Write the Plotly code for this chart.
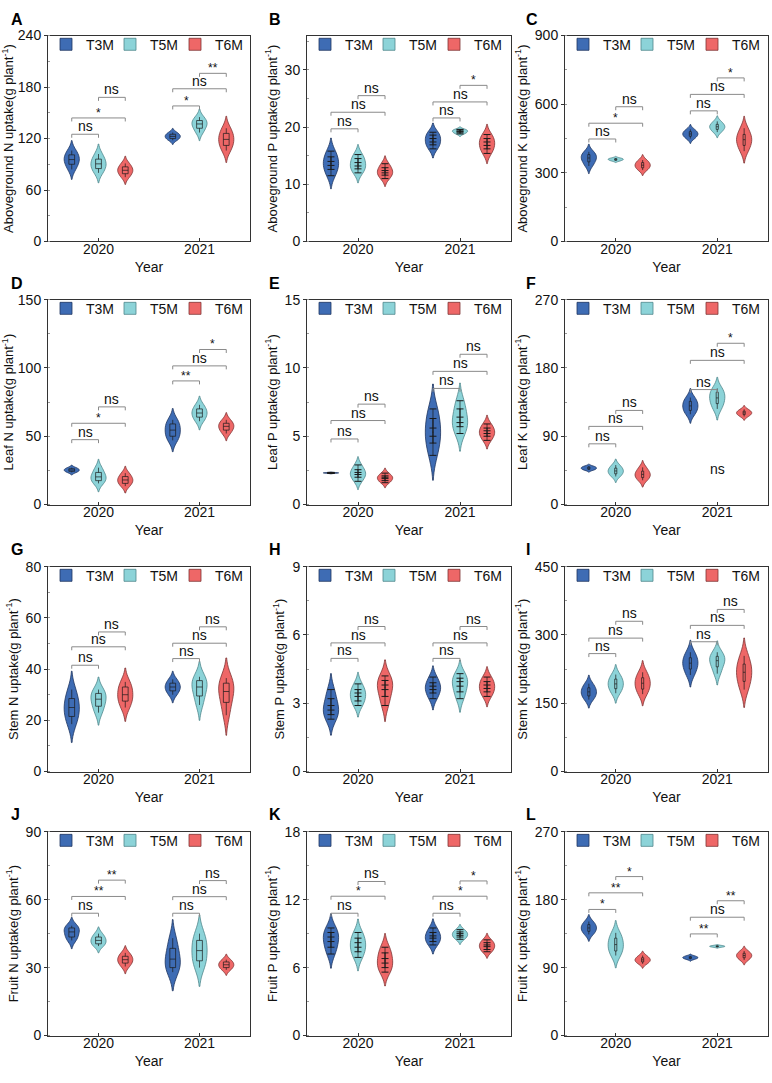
import plotly.graph_objects as go

W, H = 772, 1083

years = ["2020", "2021"]
treatments = ["T3M", "T5M", "T6M"]
letters = ["A", "B", "C", "D", "E", "F", "G", "H", "I", "J", "K", "L"]
y_titles = [
    "Aboveground N uptake(g plant<sup>-1</sup>)",
    "Aboveground P uptake(g plant<sup>-1</sup>)",
    "Aboveground K uptake(g plant<sup>-1</sup>)",
    "Leaf N uptake(g plant<sup>-1</sup>)",
    "Leaf P uptake(g plant<sup>-1</sup>)",
    "Leaf K uptake(g plant<sup>-1</sup>)",
    "Stem N uptake(g plant<sup>-1</sup>)",
    "Stem P uptake(g plant<sup>-1</sup>)",
    "Stem K uptake(g plant<sup>-1</sup>)",
    "Fruit N uptake(g plant<sup>-1</sup>)",
    "Fruit P uptake(g plant<sup>-1</sup>)",
    "Fruit K uptake(g plant<sup>-1</sup>)",
]
y_max = [240, 36, 900, 150, 15, 270, 80, 9, 450, 90, 18, 270]
y_step = [60, 10, 300, 50, 5, 90, 20, 3, 150, 30, 6, 90]

# ---- sample values per treatment: [2020 values, 2021 values] ----
a_t3m = [[84, 90, 94, 97, 101, 106], [118, 120, 122, 123, 125, 127]]
a_t5m = [[80, 85, 89, 92, 96, 102], [127, 132, 136, 138, 141, 145]]
a_t6m = [[75, 79, 82, 84, 87, 91], [106, 112, 117, 121, 126, 132]]

b_t3m = [[11.5, 12.6, 13.3, 14.0, 14.8, 15.8], [16.2, 16.9, 17.4, 18.0, 18.6, 19.1]]
b_t5m = [[12.0, 12.7, 13.2, 13.8, 14.5, 15.2], [18.8, 19.0, 19.2, 19.3, 19.5, 19.6]]
b_t6m = [[11.0, 11.6, 12.0, 12.4, 12.9, 13.6], [15.4, 16.2, 16.8, 17.4, 18.0, 18.7]]

c_t3m = [[330, 348, 360, 370, 380, 392], [450, 460, 467, 473, 480, 490]]
c_t5m = [[352, 355, 358, 360, 362, 365], [478, 490, 498, 505, 512, 525]]
c_t6m = [[312, 322, 330, 337, 345, 356], [395, 420, 438, 452, 468, 495]]

d_t3m = [[23.5, 24.3, 25.0, 25.5, 26.2, 27.0], [47, 50, 53, 56, 59, 62]]
d_t5m = [[15.5, 17.5, 19.5, 21.0, 23.5, 27.0], [61, 64, 66, 68, 70, 73]]
d_t6m = [[13.5, 15.5, 17.5, 18.5, 20.5, 23.0], [52, 54.5, 56.5, 58, 59.5, 62]]

e_t3m = [[2.28, 2.30, 2.31, 2.32, 2.33, 2.35], [3.6, 4.5, 5.0, 5.6, 6.3, 7.0]]
e_t5m = [[1.7, 2.0, 2.2, 2.35, 2.55, 2.9], [5.2, 5.7, 6.0, 6.4, 7.0, 7.6]]
e_t6m = [[1.6, 1.75, 1.9, 2.0, 2.1, 2.3], [4.7, 5.0, 5.2, 5.4, 5.6, 5.9]]

f_t3m = [[45.5, 46.5, 47.5, 48.5, 49.5, 50.5], [119, 124, 128, 132, 136, 141]]
f_t5m = [[37, 40.5, 43, 45.5, 48, 52], [126, 133, 138, 143, 148, 153]]
f_t6m = [[32, 35.5, 38.5, 41, 44, 49], [116, 118.5, 120, 121.5, 123, 125.5]]

g_t3m = [[18.5, 21.5, 24, 26, 28.5, 32], [30, 31.5, 32.5, 33.5, 34.5, 36]]
g_t5m = [[23, 25.5, 27.5, 29, 30.5, 32], [26, 29.5, 32, 34, 35.5, 37]]
g_t6m = [[25, 27.5, 29, 31, 33, 35], [22, 27, 30, 32.5, 34.5, 36.5]]

h_t3m = [[2.3, 2.5, 2.7, 2.9, 3.2, 3.6], [3.2, 3.45, 3.6, 3.75, 3.9, 4.15]]
h_t5m = [[2.9, 3.1, 3.3, 3.45, 3.6, 3.85], [3.2, 3.5, 3.75, 3.95, 4.1, 4.3]]
h_t6m = [[2.9, 3.3, 3.6, 3.8, 4.0, 4.2], [3.3, 3.5, 3.65, 3.8, 3.95, 4.15]]

i_t3m = [[158, 166, 172, 178, 184, 193], [212, 225, 234, 242, 250, 262]]
i_t5m = [[172, 182, 189, 196, 203, 213], [215, 230, 240, 247, 253, 262]]
i_t6m = [[170, 181, 190, 198, 206, 218], [180, 198, 212, 224, 236, 254]]

j_t3m = [[42, 43.5, 45, 46.5, 47.5, 48.5], [28, 30, 32.5, 35, 38.5, 43]]
j_t5m = [[39.5, 40.5, 41.5, 42.5, 43.5, 45], [30, 33, 36, 39, 42, 45]]
j_t6m = [[30.5, 32, 33, 34, 35, 36.5], [29, 30, 31, 31.5, 32.5, 33.5]]

k_t3m = [[7.2, 7.8, 8.3, 8.7, 9.1, 9.5], [8.0, 8.3, 8.6, 8.8, 9.1, 9.5]]
k_t5m = [[6.9, 7.4, 7.8, 8.2, 8.6, 9.1], [8.5, 8.7, 8.85, 9.0, 9.15, 9.35]]
k_t6m = [[5.6, 6.0, 6.4, 6.8, 7.3, 7.8], [7.4, 7.6, 7.85, 8.0, 8.2, 8.45]]

l_t3m = [[134, 138, 141, 144, 147, 151], [101, 102, 103, 103.5, 104.5, 105.5]]
l_t5m = [[106, 112, 118, 123, 129, 136], [117, 117.5, 118, 118.3, 118.8, 119.3]]
l_t6m = [[95, 97.5, 99.5, 101, 103, 106], [100, 103, 105, 107, 109, 112]]

# ---- significance brackets: (year index, treatment i, treatment j, level, label) ----
a_sig = [(0, 0, 1, 125, "ns"), (0, 0, 2, 144, "*"), (0, 1, 2, 168, "ns"),
         (1, 0, 1, 158, "*"), (1, 0, 2, 178, "ns"), (1, 1, 2, 196, "**")]
b_sig = [(0, 0, 1, 19.7, "ns"), (0, 0, 2, 22.6, "ns"), (0, 1, 2, 25.5, "ns"),
         (1, 0, 1, 21.6, "ns"), (1, 0, 2, 24.4, "ns"), (1, 1, 2, 27.3, "*")]
c_sig = [(0, 0, 1, 448, "ns"), (0, 0, 2, 517, "*"), (0, 1, 2, 589, "ns"),
         (1, 0, 1, 571, "ns"), (1, 0, 2, 643, "ns"), (1, 1, 2, 715, "*")]
d_sig = [(0, 0, 1, 47.5, "ns"), (0, 0, 2, 59.5, "*"), (0, 1, 2, 71.5, "ns"),
         (1, 0, 1, 90.5, "**"), (1, 0, 2, 101.5, "ns"), (1, 1, 2, 113.5, "*")]
e_sig = [(0, 0, 1, 4.8, "ns"), (0, 0, 2, 6.15, "ns"), (0, 1, 2, 7.35, "ns"),
         (1, 0, 1, 8.5, "ns"), (1, 0, 2, 9.75, "ns"), (1, 1, 2, 11.0, "ns")]
f_sig = [(0, 0, 1, 80, "ns"), (0, 0, 2, 103, "ns"), (0, 1, 2, 124, "ns"),
         (1, 0, 1, 151.5, "ns"), (1, 0, 2, 190, "ns"), (1, 1, 2, 212.5, "*")]
g_sig = [(0, 0, 1, 41.5, "ns"), (0, 0, 2, 48.7, "ns"), (0, 1, 2, 54.5, "ns"),
         (1, 0, 1, 44.1, "ns"), (1, 0, 2, 50.1, "ns"), (1, 1, 2, 56.5, "ns")]
h_sig = [(0, 0, 1, 4.97, "ns"), (0, 0, 2, 5.65, "ns"), (0, 1, 2, 6.37, "ns"),
         (1, 0, 1, 4.97, "ns"), (1, 0, 2, 5.65, "ns"), (1, 1, 2, 6.37, "ns")]
i_sig = [(0, 0, 1, 259, "ns"), (0, 0, 2, 293, "ns"), (0, 1, 2, 330, "ns"),
         (1, 0, 1, 285, "ns"), (1, 0, 2, 321, "ns"), (1, 1, 2, 356, "ns")]
j_sig = [(0, 0, 1, 54, "ns"), (0, 0, 2, 61.4, "**"), (0, 1, 2, 68.6, "**"),
         (1, 0, 1, 54, "ns"), (1, 0, 2, 61.3, "ns"), (1, 1, 2, 68.4, "ns")]
k_sig = [(0, 0, 1, 10.8, "ns"), (0, 0, 2, 12.3, "*"), (0, 1, 2, 13.6, "ns"),
         (1, 0, 1, 10.8, "ns"), (1, 0, 2, 12.3, "*"), (1, 1, 2, 13.65, "*")]
l_sig = [(0, 0, 1, 167, "*"), (0, 0, 2, 189, "**"), (0, 1, 2, 210.5, "*"),
         (1, 0, 1, 134.6, "**"), (1, 0, 2, 156.7, "ns"), (1, 1, 2, 178.5, "**")]
# standalone label in panel F: (year index, level, label)
f_extra = [(1, 47, "ns")]

panel_values = [
    [a_t3m, a_t5m, a_t6m], [b_t3m, b_t5m, b_t6m], [c_t3m, c_t5m, c_t6m],
    [d_t3m, d_t5m, d_t6m], [e_t3m, e_t5m, e_t6m], [f_t3m, f_t5m, f_t6m],
    [g_t3m, g_t5m, g_t6m], [h_t3m, h_t5m, h_t6m], [i_t3m, i_t5m, i_t6m],
    [j_t3m, j_t5m, j_t6m], [k_t3m, k_t5m, k_t6m], [l_t3m, l_t5m, l_t6m],
]
panel_sigs = [a_sig, b_sig, c_sig, d_sig, e_sig, f_sig, g_sig, h_sig, i_sig, j_sig, k_sig, l_sig]
panel_extra = [[], [], [], [], [], f_extra, [], [], [], [], [], []]

# ---- style ----
FONT = "Arial, Liberation Sans, sans-serif"
fills = ["#3E6CB4", "#8CD3D8", "#EE6767"]
outlines = ["#1E3560", "#4F878C", "#7E3434"]
offsets = [-0.265, 0.0, 0.265]
col_px = [(48, 250), (307, 511), (565, 768)]
row_px = [(28, 237), (296, 504), (567, 775), (836, 1043)]
letter_x = [9, 267, 524]
letter_y = [1, 269, 539, 808]
legend_dx = [-2, 62, 127]   # legend anchor offsets from the plot's left edge (px)

fig = go.Figure()
shapes = []
annotations = []
layout_upd = {}

for p in range(12):
    r, c = divmod(p, 3)
    k = p + 1
    sfx = "" if k == 1 else str(k)
    xref, yref = "x" + sfx, "y" + sfx
    kind = c  # 0: N (box), 1: P (ticks), 2: K (narrow box)
    x0, x1 = col_px[c]
    y0, y1 = row_px[r]
    for t in range(3):
        li = p * 3 + t + 1
        leg = "legend" if li == 1 else "legend" + str(li)
        for yi in range(2):
            vals = panel_values[p][t][yi]
            box_w = [0.38, 0.06, 0.14][kind]
            fig.add_trace(go.Violin(
                x=[yi + 1 + offsets[t]] * len(vals), y=vals,
                name=treatments[t], legend=leg, showlegend=(yi == 0),
                xaxis=xref, yaxis=yref,
                fillcolor=fills[t], line=dict(color=outlines[t], width=0.8),
                width=0.15, scalemode="width", spanmode="soft",
                box=dict(visible=True, width=box_w, fillcolor=fills[t],
                         line=dict(color="#1a1a1a", width=0.7)),
                meanline=dict(visible=False),
                points="all" if kind == 1 else False,
                pointpos=0, jitter=0,
                marker=dict(symbol="line-ew", size=5, color="#1a1a1a",
                            line=dict(width=1, color="#1a1a1a")),
                hoverinfo="skip", opacity=1,
            ))
        layout_upd[leg] = dict(
            x=(x0 + legend_dx[t]) / W, y=1 - (y0 - 7) / H,
            xanchor="left", yanchor="top",
            orientation="h", bgcolor="rgba(0,0,0,0)", borderwidth=0,
            font=dict(size=14, color="#111", family=FONT),
            itemclick=False,
        )

    ym = y_max[p]
    layout_upd["xaxis" + sfx] = dict(
        domain=[x0 / W, x1 / W], anchor=yref, range=[0.5, 2.5],
        tickvals=[1, 2], ticktext=years, showline=True, mirror=True,
        linecolor="#333", linewidth=1, ticks="inside", ticklen=3, tickcolor="#333",
        ticklabelstandoff=-5,
        showgrid=False, zeroline=False,
        tickfont=dict(size=14, color="#111", family=FONT),
        title=dict(text="Year", font=dict(size=14, color="#111", family=FONT), standoff=5),
    )
    layout_upd["yaxis" + sfx] = dict(
        domain=[1 - y1 / H, 1 - y0 / H], anchor=xref, range=[0, ym],
        tick0=0, dtick=y_step[p], showline=True, mirror=True,
        linecolor="#333", linewidth=1, ticks="outside", ticklen=3, tickcolor="#333",
        minor=dict(dtick=y_step[p] / 2, ticks="inside", ticklen=2, tickcolor="#999"),
        showgrid=False, zeroline=False,
        tickfont=dict(size=14, color="#111", family=FONT),
        title=dict(text=y_titles[p], font=dict(size=13, color="#111", family=FONT), standoff=4),
    )

    tick_d = 0.017 * ym
    for (yi, ti, tj, lvl, lab) in panel_sigs[p]:
        xa = yi + 1 + offsets[ti]
        xb = yi + 1 + offsets[tj]
        shapes.append(dict(
            type="path", xref=xref, yref=yref,
            path=f"M{xa},{lvl - tick_d} L{xa},{lvl} L{xb},{lvl} L{xb},{lvl - tick_d}",
            line=dict(color="#8a8a8a", width=1),
        ))
        is_star = lab.startswith("*")
        annotations.append(dict(
            x=(xa + xb) / 2, y=lvl, xref=xref, yref=yref, text=lab,
            showarrow=False, yanchor="bottom",
            yshift=-4 if is_star else -2,
            font=dict(size=12 if is_star else 14, color="#111", family=FONT),
        ))
    for (yi, lvl, lab) in panel_extra[p]:
        annotations.append(dict(
            x=yi + 1, y=lvl, xref=xref, yref=yref, text=lab, showarrow=False,
            font=dict(size=14, color="#111", family=FONT),
        ))

    annotations.append(dict(
        x=letter_x[c] / W, y=1 - letter_y[r] / H, xref="paper", yref="paper",
        xanchor="left", yanchor="top", text="<b>" + letters[p] + "</b>",
        showarrow=False, font=dict(size=16, color="#000", family=FONT),
    ))

fig.update_layout(**layout_upd)
fig.update_layout(
    width=W, height=H, margin=dict(l=0, r=0, t=0, b=0),
    paper_bgcolor="white", plot_bgcolor="white",
    violinmode="overlay", showlegend=True,
    shapes=shapes, annotations=annotations,
    font=dict(family=FONT, size=14, color="#111"),
)

fig.write_html("out.html")
